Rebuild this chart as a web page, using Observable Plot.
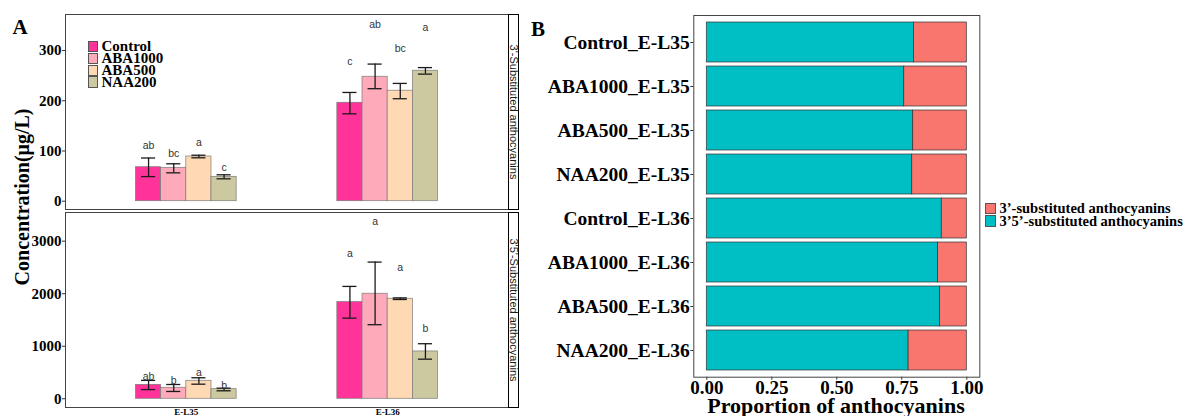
<!DOCTYPE html>
<html>
<head>
<meta charset="utf-8">
<script src="https://cdn.jsdelivr.net/npm/d3@7"></script>
<script src="https://cdn.jsdelivr.net/npm/@observablehq/plot@0.6"></script>
<style>
  body { margin: 0; background: white; }
  #root { position: relative; width: 1183px; height: 416px; background: white; overflow: hidden;
          font-family: "Liberation Serif", "Times New Roman", serif; color: #000; }
  #root svg { position: absolute; overflow: visible; background: transparent; max-width: none; }
  .abs { position: absolute; white-space: nowrap; line-height: 1; }
  .strip { position: absolute; border: 1px solid #000; box-sizing: border-box; background: #fff; }
  .strip span { position: absolute; left: 50%; top: 50%; transform: translate(-50%, -50%) rotate(90deg);
                font-family: "Liberation Sans", Arial, sans-serif; font-size: 11px; line-height: 1;
                white-space: nowrap; color: #1a1a1a; }
  .sw { position: absolute; box-sizing: border-box; border: 1px solid #555; }
</style>
</head>
<body>
<div id="root"></div>
<script>
// ---------------- DATA ----------------
const stages = ["E-L35", "E-L36"];
const treatments = ["Control", "ABA1000", "ABA500", "NAA200"];
const treatmentColors = ["#FF3399", "#FFAABB", "#FFD9B3", "#CCC8A0"];

// 3'-substituted anthocyanins (µg/L): means, error-bar lows/highs, letters and letter heights
const sub3Mean_EL35 = [67.7, 66.5, 89, 48.6];
const sub3Low_EL35  = [49, 56.5, 86.4, 44.6];
const sub3High_EL35 = [86, 74.5, 91.6, 52.6];
const sub3Letters_EL35 = ["ab", "bc", "a", "c"];
const sub3LetterY_EL35 = [111, 95, 117.5, 67];

const sub3Mean_EL36 = [196, 247.8, 220, 259.8];
const sub3Low_EL36  = [174, 224, 204, 253];
const sub3High_EL36 = [216.5, 273, 234.5, 266];
const sub3Letters_EL36 = ["c", "ab", "bc", "a"];
const sub3LetterY_EL36 = [278, 352, 303, 344.6];

// 3'5'-substituted anthocyanins (µg/L)
const sub35Mean_EL35 = [265, 210, 343, 183];
const sub35Low_EL35  = [175, 139, 278, 152];
const sub35High_EL35 = [350, 272, 400, 202];
const sub35Letters_EL35 = ["ab", "b", "a", "b"];
const sub35LetterY_EL35 = [430, 348, 507, 253];

const sub35Mean_EL36 = [1840, 2000, 1905, 901];
const sub35Low_EL36  = [1535, 1410, 1890, 754];
const sub35High_EL36 = [2139, 2602, 1920, 1048];
const sub35Letters_EL36 = ["a", "a", "a", "b"];
const sub35LetterY_EL36 = [2762, 3364, 2488, 1333];

const topTicks = [0, 100, 200, 300];
const bottomTicks = [0, 1000, 2000, 3000];
const propTicks = [0, 0.25, 0.5, 0.75, 1];

const type3 = "3\u2019-substituted anthocyanins";
const type35 = "3\u20195\u2019-substituted anthocyanins";
const typeColors = ["#F8766D", "#00BFC4"];

// ---------------- BUILD TABLES ----------------
const dodge = 0.125; // bar width in stage units (ggplot dodge, width 0.5)
function buildRows(meansByStage, lowByStage, highByStage, lettersByStage, letterYByStage) {
  const rows = [];
  stages.forEach((s, si) => {
    treatments.forEach((t, ti) => {
      const x1 = (si + 1) - 2 * dodge + ti * dodge;
      rows.push({
        stage: s, treatment: t, x1, x2: x1 + dodge, xc: x1 + dodge / 2,
        mean: meansByStage[si][ti], lo: lowByStage[si][ti], hi: highByStage[si][ti],
        letter: lettersByStage[si][ti], ly: letterYByStage[si][ti]
      });
    });
  });
  return rows;
}
const rows3 = buildRows([sub3Mean_EL35, sub3Mean_EL36], [sub3Low_EL35, sub3Low_EL36],
  [sub3High_EL35, sub3High_EL36], [sub3Letters_EL35, sub3Letters_EL36], [sub3LetterY_EL35, sub3LetterY_EL36]);
const rows35 = buildRows([sub35Mean_EL35, sub35Mean_EL36], [sub35Low_EL35, sub35Low_EL36],
  [sub35High_EL35, sub35High_EL36], [sub35Letters_EL35, sub35Letters_EL36], [sub35LetterY_EL35, sub35LetterY_EL36]);

const capHalf = 0.035;
function panelMarks(rows, ticks) {
  return [
    Plot.rect(rows, {x1: "x1", x2: "x2", y1: 0, y2: "mean", fill: "treatment", stroke: "#7a7a7a", strokeWidth: 0.7}),
    Plot.ruleX(rows, {x: "xc", y1: "lo", y2: "hi", stroke: "#1a1a1a", strokeWidth: 1.3}),
    Plot.ruleY(rows, {y: "lo", x1: d => d.xc - capHalf, x2: d => d.xc + capHalf, stroke: "#1a1a1a", strokeWidth: 1.3}),
    Plot.ruleY(rows, {y: "hi", x1: d => d.xc - capHalf, x2: d => d.xc + capHalf, stroke: "#1a1a1a", strokeWidth: 1.3}),
    Plot.text(rows, {x: "xc", y: "ly", text: "letter", fill: "#333", fontSize: 10.5,
      fontFamily: "Liberation Sans, Arial, sans-serif"}),
    Plot.axisY({ticks, tickFormat: d => String(d), tickSize: 3, tickPadding: 1, fontSize: 15,
      fontWeight: "bold", stroke: "#333"}),
    Plot.frame({stroke: "#444", strokeWidth: 1})
  ];
}

const root = document.getElementById("root");
const colorScale = {domain: treatments, range: treatmentColors};

// ---------------- PANEL A (top) ----------------
const pTop = Plot.plot({
  width: 530, height: 212,
  marginLeft: 65, marginRight: 22, marginTop: 14, marginBottom: 3,
  style: {fontFamily: "Liberation Serif, Times New Roman, serif", color: "#000", background: "transparent"},
  x: {domain: [0.4, 2.6], axis: null},
  y: {domain: [-16.5, 371.7], label: null, axis: null},
  color: colorScale,
  marks: panelMarks(rows3, topTicks)
});
pTop.style.left = "0px"; pTop.style.top = "0px";
root.appendChild(pTop);

// ---------------- PANEL A (bottom) ----------------
const pBot = Plot.plot({
  width: 530, height: 211,
  marginLeft: 65, marginRight: 22, marginTop: 7, marginBottom: 9,
  style: {fontFamily: "Liberation Serif, Times New Roman, serif", color: "#000", background: "transparent"},
  x: {domain: [0.4, 2.6], axis: null},
  y: {domain: [-166, 3546], label: null, axis: null},
  color: colorScale,
  marks: [
    ...panelMarks(rows35, bottomTicks),
    Plot.axisX({ticks: [1, 2], tickFormat: d => stages[d - 1], tickSize: 0, tickPadding: 1.5,
      fontSize: 9, fontWeight: "bold", stroke: "#333", label: null})
  ]
});
pBot.style.left = "0px"; pBot.style.top = "205px";
root.appendChild(pBot);

// ---------------- PANEL B ----------------
const propCats = [];
const propRows = [];
stages.forEach((s, si) => {
  treatments.forEach((t, ti) => {
    const cat = `${t}_${s}`;
    propCats.push(cat);
    const a = rows3.find(r => r.stage === s && r.treatment === t).mean;
    const b = rows35.find(r => r.stage === s && r.treatment === t).mean;
    propRows.push({cat, type: type35, value: b / (a + b)});
    propRows.push({cat, type: type3, value: a / (a + b)});
  });
});

const pB = Plot.plot({
  width: 455, height: 416,
  marginLeft: 163.3, marginRight: 5.7, marginTop: 15, marginBottom: 39.3,
  style: {fontFamily: "Liberation Serif, Times New Roman, serif", color: "#000", background: "transparent"},
  x: {domain: [-0.05, 1.05], label: null, axis: null},
  y: {domain: propCats, paddingInner: 0.1, paddingOuter: 0.15, label: null, axis: null},
  color: {domain: [type3, type35], range: typeColors},
  marks: [
    Plot.barX(propRows, {x: "value", y: "cat", fill: "type", order: [type35, type3], stroke: "#333", strokeWidth: 0.7}),
    Plot.axisY({tickSize: 3, tickPadding: 1, fontSize: 19.5, fontWeight: "bold", stroke: "#333"}),
    Plot.axisX({ticks: propTicks, tickFormat: d3.format(".2f"), tickSize: 3, tickPadding: 0,
      fontSize: 19, fontWeight: "bold", stroke: "#333", label: null}),
    Plot.frame({stroke: "#444", strokeWidth: 1})
  ]
});
pB.style.left = "530px"; pB.style.top = "0px";
root.appendChild(pB);

// ---------------- TEXT / LEGENDS ----------------
function addDiv(html, css, cls = "abs") {
  const d = document.createElement("div");
  d.className = cls;
  d.innerHTML = html;
  Object.assign(d.style, css);
  root.appendChild(d);
  return d;
}
addDiv("A", {left: "12.5px", top: "17px", fontSize: "21px", fontWeight: "bold"});
addDiv("B", {left: "531px", top: "19px", fontSize: "21px", fontWeight: "bold"});
addDiv("Concentration(\u03bcg/L)", {left: "22px", top: "197px", fontSize: "20px", fontWeight: "bold",
  transform: "translate(-50%, -50%) rotate(-90deg)"});

// legend A
const legYA = [46.7, 58.3, 70.3, 82];
treatments.forEach((t, i) => {
  addDiv("", {left: "87.7px", top: (legYA[i] - 5.6) + "px", width: "10.8px", height: "11.2px",
    background: treatmentColors[i]}, "sw");
  addDiv(t, {left: "101.5px", top: (legYA[i] - 7.5) + "px", fontSize: "15px", fontWeight: "bold"});
});

// strips
addDiv("<span>3'-Substituted anthocyanins</span>", {left: "507.5px", top: "13.5px", width: "11.5px", height: "196px"}, "strip");
addDiv("<span>3'5'-Substituted anthocyanins</span>", {left: "507.5px", top: "211.5px", width: "11.5px", height: "196px"}, "strip");

// legend B
const legB = [[type3, typeColors[0], 208.3], [type35, typeColors[1], 221.2]];
legB.forEach(([t, c, y]) => {
  addDiv("", {left: "985px", top: (y - 5.8) + "px", width: "10.8px", height: "11.6px", background: c}, "sw");
  addDiv(t, {left: "999.5px", top: (y - 7) + "px", fontSize: "14.5px", fontWeight: "bold"});
});

// x title B
addDiv("Proportion of anthocyanins", {left: "836px", top: "406px", fontSize: "22px", fontWeight: "bold",
  transform: "translate(-50%, -50%)"});
</script>
</body>
</html>
